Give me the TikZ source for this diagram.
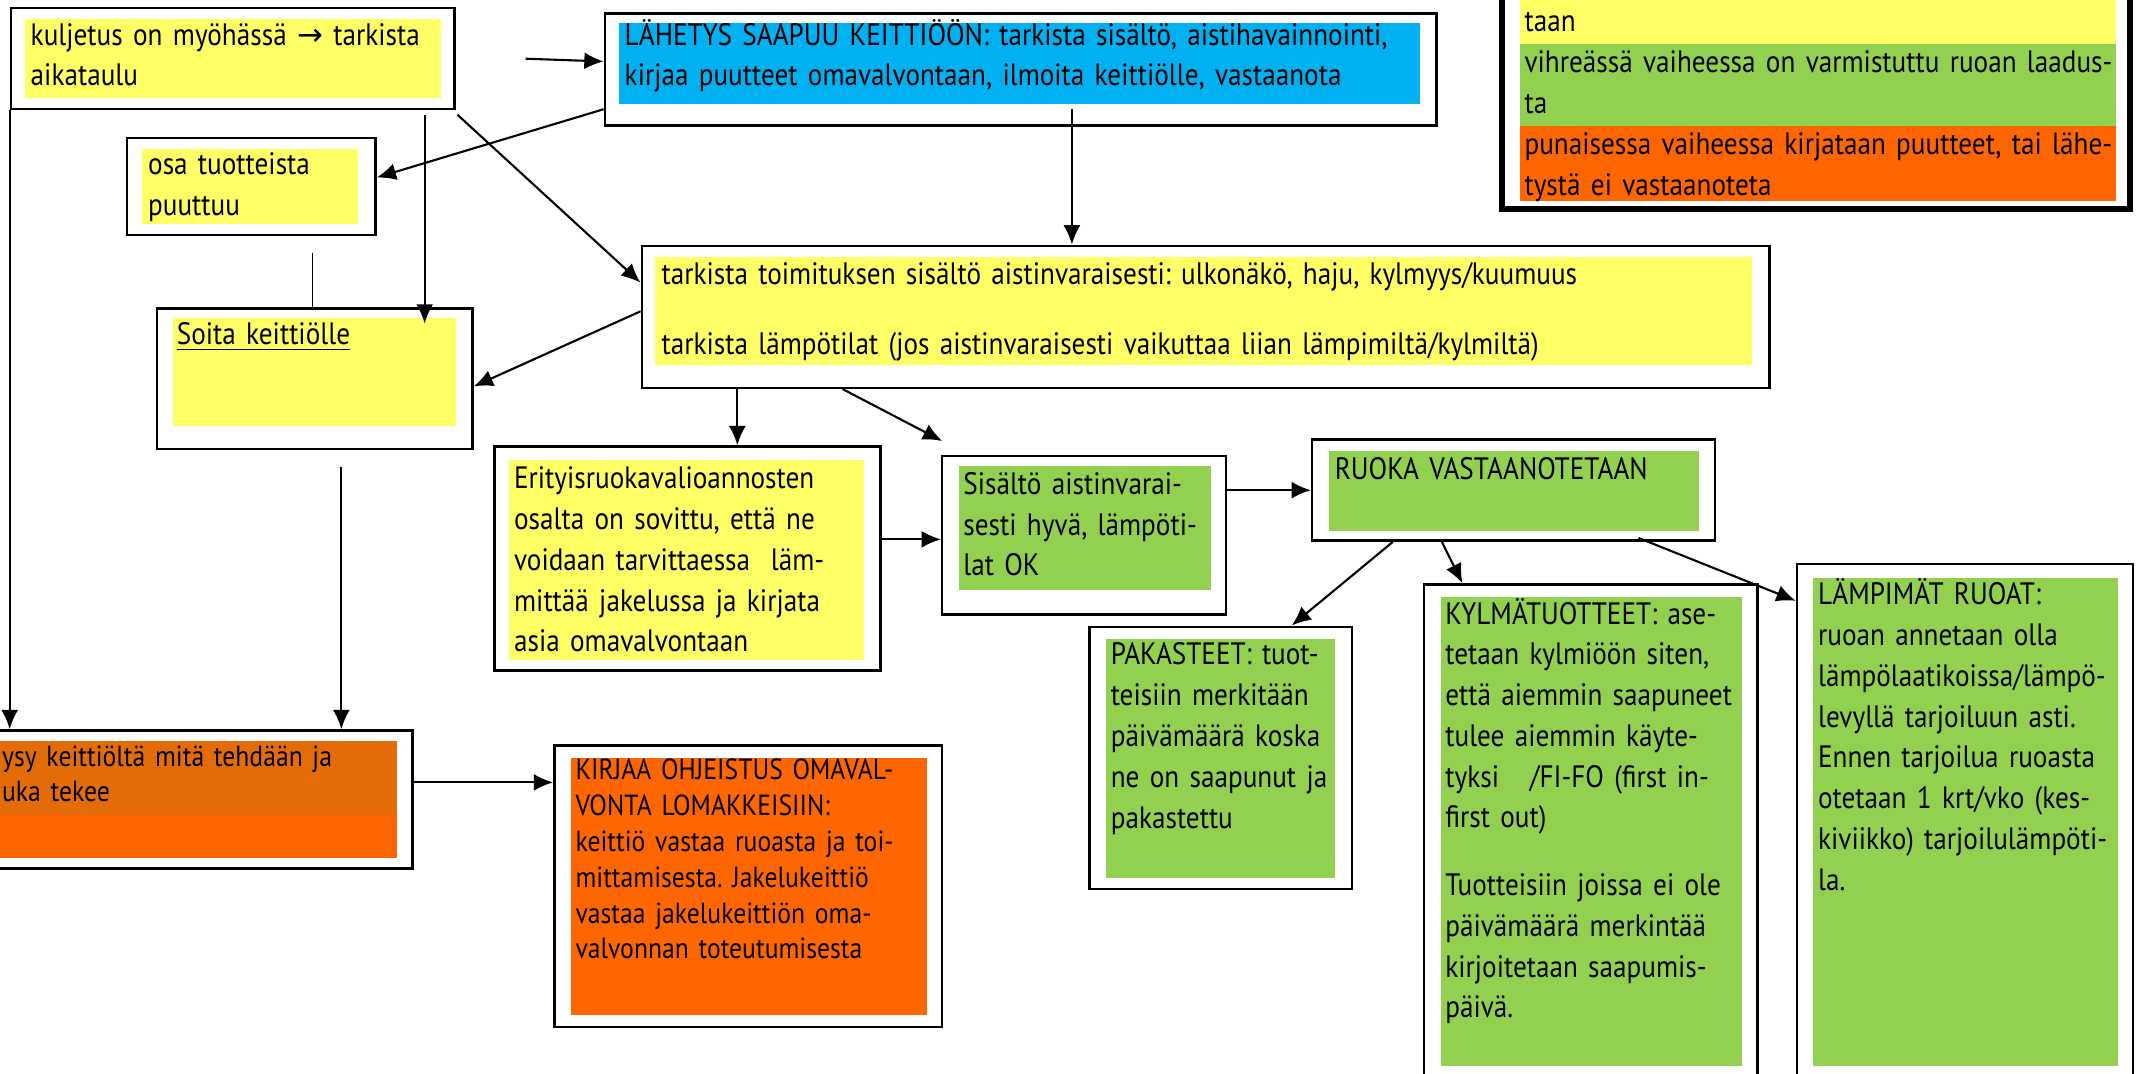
\documentclass[tikz,border=0pt]{standalone}
\usepackage{fontspec}
\setmainfont{PT Sans}[FakeStretch=0.88,WordSpace=0.5]
\newfontfamily\symbfont{DejaVu Sans}
\usetikzlibrary{arrows.meta,fit,positioning}
\definecolor{jaune}{HTML}{FFFF66}
\definecolor{bleu}{HTML}{00B0F0}
\definecolor{vert}{HTML}{92D050}
\definecolor{orange}{HTML}{FF6600}
\definecolor{orangefonce}{HTML}{E36C09}
\frenchspacing

\begin{document}
\begin{tikzpicture}[x=0.013654cm,y=-0.013654cm]
\tikzstyle{lien}=[-{Latex[length=5.5pt,width=4.8pt]},line width=0.6pt]
\tikzset{cadre/.style={draw,line width=0.7pt,inner sep=0pt},
texte/.style={anchor=base west,align=left,text width=12cm,inner sep=0pt,
  font=\fontsize{8.8}{11.6}\selectfont},
serre/.style={texte,font=\fontsize{8.3}{10.2}\selectfont}}
\useasboundingbox (0,0) rectangle (1568,786);
\clip (0,0) rectangle (1568,786);

% boites
\node[cadre,fit={(8,6) (333,80)}] (kulj) {};
\fill[jaune] (18,14) rectangle (323,72);
\node[texte] (kuljT) at (22,33) {kuljetus on myöhässä {\symbfont →} tarkista\\aikataulu};

\node[cadre,fit={(443,10) (1052,92)}] (lahetys) {};
\fill[bleu] (453,17) rectangle (1040,76);
\node[texte] (lahetysT) at (457,33) {LÄHETYS SAAPUU KEITTIÖÖN: tarkista sisältö, aistihavainnointi,\\kirjaa puutteet omavalvontaan, ilmoita keittiölle, vastaanota};

\node[cadre,line width=1.6pt,fit={(1100,-60) (1560,153)}] (legende) {};
\fill[jaune] (1113,-60) rectangle (1550,32);
\fill[vert] (1113,32) rectangle (1550,92);
\fill[orange] (1113,92) rectangle (1550,147);
\node[texte] (legJ) at (1116,23) {taan};
\node[texte] (legV) at (1116,53) {vihreässä vaiheessa on varmistuttu ruoan laadus-\\ta};
\node[texte] (legO) at (1116,113) {punaisessa vaiheessa kirjataan puutteet, tai lähe-\\tystä ei vastaanoteta};

\node[cadre,fit={(93,101) (275,172)}] (osa) {};
\fill[jaune] (104,109) rectangle (262,164);
\node[texte] (osaT) at (108,128) {osa tuotteista\\puuttuu};

\node[cadre,fit={(115,226) (346,329)}] (soita) {};
\fill[jaune] (127,233) rectangle (334,312);
\node[texte] (soitaT) at (129,252) {\underline{Soita keittiölle}};

\node[cadre,fit={(470,180) (1296,284)}] (tark) {};
\fill[jaune] (480,188) rectangle (1283,267);
\node[texte,text width=16cm] (tarkT) at (484,208) {tarkista toimituksen sisältö aistinvaraisesti: ulkonäkö, haju, kylmyys/kuumuus\\[0.3cm]tarkista lämpötilat (jos aistinvaraisesti vaikuttaa liian lämpimiltä/kylmiltä)};

\node[cadre,fit={(362,327) (645,491)}] (erit) {};
\fill[jaune] (373,337) rectangle (633,483);
\node[texte] (eritT) at (376,358) {Erityisruokavalioannosten\\osalta on sovittu, että ne\\voidaan tarvittaessa\ \ läm-\\mittää jakelussa ja kirjata\\asia omavalvontaan};

\node[cadre,fit={(690,334) (898,450)}] (sisa) {};
\fill[vert] (702,341) rectangle (887,432);
\node[texte] (sisaT) at (705,362) {Sisältö aistinvarai-\\sesti hyvä, lämpöti-\\lat OK};

\node[cadre,fit={(961,322) (1256,396)}] (ruoka) {};
\fill[vert] (973,330) rectangle (1244,389);
\node[texte] (ruokaT) at (977,351) {RUOKA VASTAANOTETAAN};

\node[cadre,fit={(798,459) (990,651)}] (pak) {};
\fill[vert] (810,468) rectangle (978,643);
\node[texte] (pakT) at (813,487) {PAKASTEET: tuot-\\teisiin merkitään\\päivämäärä koska\\ne on saapunut ja\\pakastettu};

\node[cadre,fit={(1043,428) (1287,830)}] (kylma) {};
\fill[vert] (1055,437) rectangle (1276,781);
\node[texte] (kylmaT) at (1058,457) {KYLMÄTUOTTEET: ase-\\tetaan kylmiöön siten,\\että aiemmin saapuneet\\tulee aiemmin käyte-\\tyksi \ \ /FI-FO (first in-\\first out)\\[0.27cm]Tuotteisiin joissa ei ole\\päivämäärä merkintää\\kirjoitetaan saapumis-\\päivä.};

\node[cadre,fit={(1316,413) (1562,830)}] (lampi) {};
\fill[vert] (1328,423) rectangle (1551,781);
\node[texte] (lampiT) at (1331,443) {LÄMPIMÄT RUOAT:\\ruoan annetaan olla\\lämpölaatikoissa/lämpö-\\levyllä tarjoiluun asti.\\Ennen tarjoilua ruoasta\\otetaan 1 krt/vko (kes-\\kiviikko) tarjoilulämpöti-\\la.};

\node[cadre,fit={(-40,535) (302,636)}] (kysy) {};
\fill[orangefonce] (-40,543) rectangle (291,597);
\fill[orange] (-40,597) rectangle (291,628);
\node[serre] (kysyT) at (1,561) {ysy keittiöltä mitä tehdään ja\\uka tekee};

\node[cadre,fit={(406,546) (690,752)}] (kirjaa) {};
\fill[orange] (418,555) rectangle (679,743);
\node[serre] (kirjaaT) at (421,571) {KIRJAA OHJEISTUS OMAVAL-\\VONTA LOMAKKEISIIN:\\keittiö vastaa ruoasta ja toi-\\mittamisesta. Jakelukeittiö\\vastaa jakelukeittiön oma-\\valvonnan toteutumisesta};

% fleches
\coordinate (d1) at (385,43);
\coordinate (d2) at (335,84);
\coordinate (d3) at (311,84);
\coordinate (f3) at (311,237);
\coordinate (d4) at (229,185);
\coordinate (d5) at (785,80);
\coordinate (f6) at (690,323);
\coordinate (d7) at (1200,394);
\coordinate (d8) at (250,342);
\draw[lien] (d1) -- (lahetys.west |- 0,45);
\draw[lien] (lahetys.west |- 0,80) -- (osa.east |- 0,130);
\draw[lien] (d2) -- (tark.west |- 0,207);
\draw[lien] (d3) -- (f3);
\draw[lien] (kulj.south west) -- (kulj.south west |- kysy.north);
\draw (d4) -- (d4 |- soita.north);
\draw[lien] (tark.west |- 0,228) -- (soita.east |- 0,283);
\draw[lien] (d5) -- (d5 |- tark.north);
\draw[lien] (tark.south -| 540,0) -- (erit.north -| 540,0);
\draw[lien] (tark.south -| 617,0) -- (f6);
\draw[lien] (erit.east |- 0,395) -- (sisa.west |- 0,395);
\draw[lien] (sisa.east |- 0,359) -- (ruoka.west |- 0,359);
\draw[lien] (ruoka.south -| 1020,0) -- (pak.north -| 946,0);
\draw[lien] (ruoka.south -| 1056,0) -- (kylma.north -| 1071,0);
\draw[lien] (d7) -- (lampi.west |- 0,440);
\draw[lien] (d8) -- (d8 |- kysy.north);
\draw[lien] (kysy.east |- 0,573) -- (kirjaa.west |- 0,573);
\end{tikzpicture}
\end{document}
